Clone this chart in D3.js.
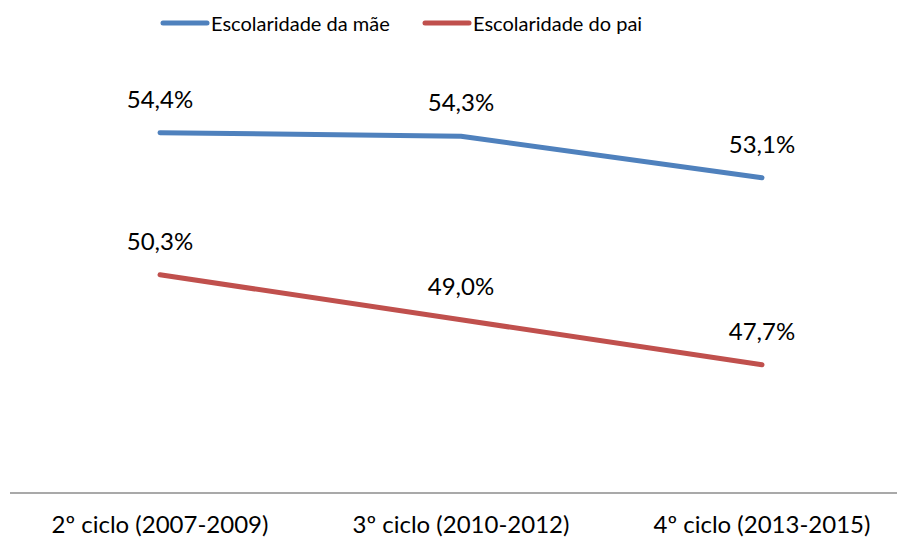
<!DOCTYPE html>
<html>
<head>
<meta charset="utf-8">
<script src="https://cdn.jsdelivr.net/npm/d3@7"></script>
<style>
  body { margin: 0; background: #fff; }
  svg text { font-family: Lato, "Open Sans", sans-serif; fill: #000; }
</style>
</head>
<body>
<div id="chart"></div>
<script>
const categories = ['2º ciclo (2007-2009)', '3º ciclo (2010-2012)', '4º ciclo (2013-2015)'];
const seriesNames = ['Escolaridade da mãe', 'Escolaridade do pai'];
const maeValues = [54.4, 54.3, 53.1];
const paiValues = [50.3, 49.0, 47.7];
const colors = ['#4f81bd', '#c0504d'];

const width = 897;
const height = 540;

const svg = d3.select('#chart').append('svg')
  .attr('width', width)
  .attr('height', height);

const x = d3.scalePoint()
  .domain(categories)
  .range([160, 762]);

const y = d3.scaleLinear()
  .domain([44, 58])
  .range([493, 8]);

// category axis, drawn by hand to mimic the flat Excel look
const axis = svg.append('g')
  .attr('transform', `translate(0,${y(44)})`);
axis.append('line')
  .attr('x1', 10)
  .attr('x2', width)
  .attr('stroke', '#8c8c8c')
  .attr('stroke-width', 1.5);
axis.selectAll('.tick')
  .data(categories)
  .enter()
  .append('text')
    .attr('x', d => x(d))
    .attr('y', 40)
    .attr('text-anchor', 'middle')
    .style('font-size', '24px')
    .text(d => d);

const series = [
  { name: seriesNames[0], values: maeValues, color: colors[0] },
  { name: seriesNames[1], values: paiValues, color: colors[1] },
];

const line = d3.line()
  .x((d, i) => x(categories[i]))
  .y(d => y(d));

series.forEach((s) => {
  svg.append('path')
    .datum(s.values)
    .attr('fill', 'none')
    .attr('stroke', s.color)
    .attr('stroke-width', 5)
    .attr('stroke-linecap', 'round')
    .attr('stroke-linejoin', 'round')
    .attr('d', line);

  svg.selectAll(null)
    .data(s.values)
    .enter()
    .append('text')
      .attr('x', (d, i) => x(categories[i]))
      .attr('y', d => y(d) - 25)
      .attr('text-anchor', 'middle')
      .style('font-size', '24px')
      .text(d => `${d.toFixed(1).replace('.', ',')}%`);
});

// legend
const legendX = [163, 425];
const legend = svg.selectAll('.legend')
  .data(series)
  .enter()
  .append('g')
    .attr('transform', (d, i) => `translate(${legendX[i]},23)`);
legend.append('line')
  .attr('x1', 0)
  .attr('x2', 44)
  .attr('stroke', d => d.color)
  .attr('stroke-width', 5)
  .attr('stroke-linecap', 'round');
legend.append('text')
  .attr('x', 48)
  .attr('y', 8)
  .style('font-size', '20px')
  .text(d => d.name);
</script>
</body>
</html>
